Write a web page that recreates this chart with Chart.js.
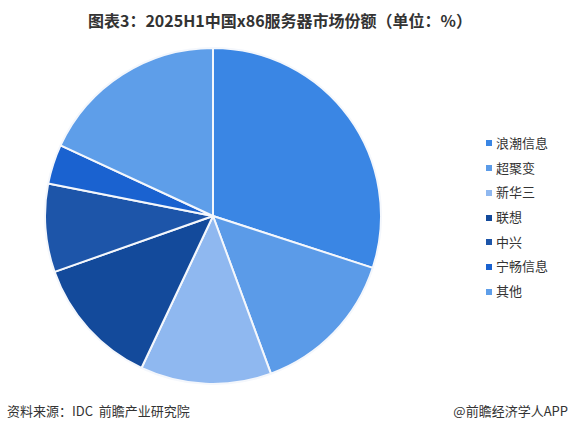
<!DOCTYPE html>
<html>
<head>
<meta charset="utf-8">
<script src="https://cdn.jsdelivr.net/npm/chart.js@4.4.0/dist/chart.umd.min.js"></script>
<style>
  html, body { margin: 0; padding: 0; background: #fff; }
  body { width: 570px; height: 433px; position: relative; overflow: hidden;
         font-family: "Noto Sans CJK SC", "Noto Sans", sans-serif; color: #333; }
  .titulo { position: absolute; top: 9px; left: -10px; width: 580px; text-align: center;
            font-size: 16px; line-height: 22px; font-weight: bold; color: #333; }
  .caja { position: absolute; left: 44px; top: 47px; width: 338px; height: 338px; }
  .leyenda { position: absolute; left: 486px; top: 131px; font-size: 13px; color: #333; }
  .leyenda span { display: block; height: 24.7px; line-height: 24px; white-space: nowrap; }
  .leyenda i { display: inline-block; width: 6px; height: 6px; margin-right: 4px;
               vertical-align: middle; position: relative; top: -1px; }
  .fuente { position: absolute; left: 7px; top: 400px; font-size: 13px; line-height: 22px; color: #333; }
  .marca { position: absolute; right: 2px; top: 400px; font-size: 13px; line-height: 22px; color: #333; }
</style>
</head>
<body>
<div class="titulo">图表3：2025H1中国x86服务器市场份额（单位：%）</div>
<div class="caja"><canvas id="chartCuota"></canvas></div>
<div class="leyenda" id="legendCuota"></div>
<div class="fuente">资料来源：IDC&nbsp;&nbsp;前瞻产业研究院</div>
<div class="marca">@前瞻经济学人APP</div>
<script>
const empresas = ["浪潮信息", "超聚变", "新华三", "联想", "中兴", "宁畅信息", "其他"];
const cuotas = [30.0, 14.4, 12.6, 12.6, 8.5, 3.8, 18.1];
const colores = ["#3a86e4", "#5b9be8", "#8fb8f0", "#134a9b", "#1d55a9", "#1a62d0", "#5e9ee9"];

const ctx = document.getElementById("chartCuota").getContext("2d");
new Chart(ctx, {
  type: "pie",
  data: {
    labels: empresas,
    datasets: [{
      data: cuotas,
      backgroundColor: colores,
      borderColor: "#f4f7fc",
      borderWidth: 2
    }]
  },
  options: {
    responsive: true,
    maintainAspectRatio: false,
    animation: false,
    layout: { padding: 0 },
    plugins: {
      legend: { display: false },
      tooltip: { enabled: false }
    }
  }
});

document.getElementById("legendCuota").innerHTML = empresas
  .map((e, i) => `<span><i style="background:${colores[i]}"></i>${e}</span>`)
  .join("");
</script>
</body>
</html>
